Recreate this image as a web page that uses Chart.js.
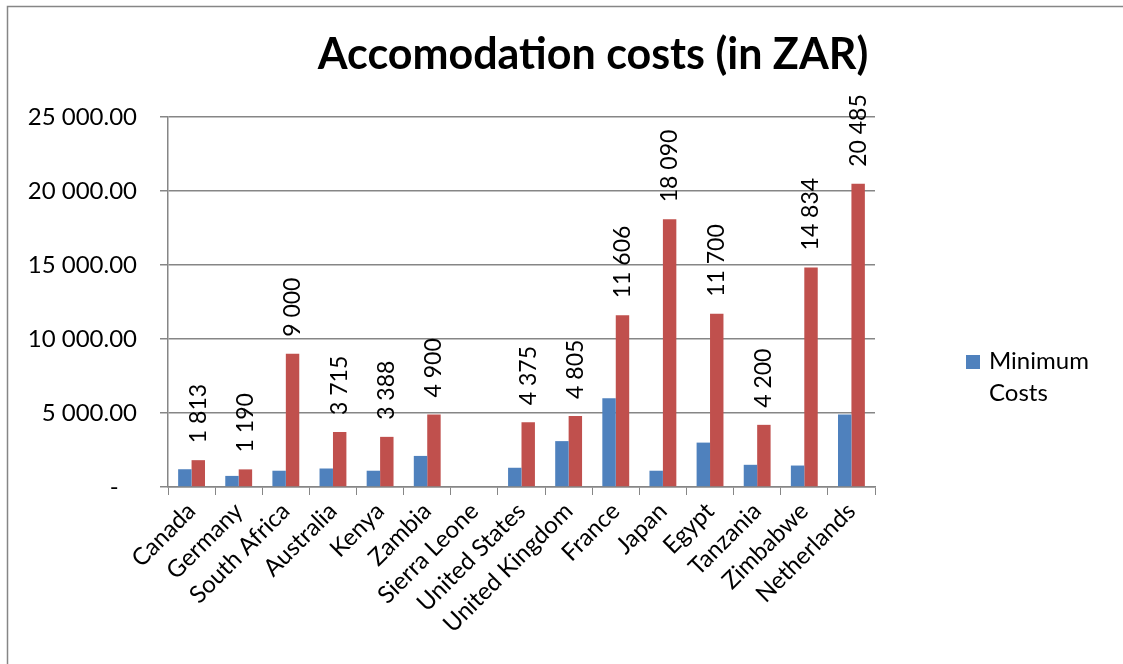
<!DOCTYPE html>
<html>
<head>
<meta charset="utf-8">
<script src="https://cdn.jsdelivr.net/npm/chart.js@4/dist/chart.umd.min.js"></script>
<style>
  html, body { margin: 0; padding: 0; background: #fff; }
  #wrap { width: 1123px; height: 664px; position: relative; }
</style>
</head>
<body>
<div id="wrap"><canvas id="costs"></canvas></div>
<script>
// chart data
const countries = ['Canada', 'Germany', 'South Africa', 'Australia', 'Kenya', 'Zambia', 'Sierra Leone',
  'United States', 'United Kingdom', 'France', 'Japan', 'Egypt', 'Tanzania', 'Zimbabwe', 'Netherlands'];
const minimumCosts = [1200, 750, 1100, 1250, 1100, 2100, 0, 1300, 3100, 6000, 1100, 3000, 1500, 1450, 4900];
const maximumCosts = [1813, 1190, 9000, 3715, 3388, 4900, null, 4375, 4805, 11606, 18090, 11700, 4200, 14834, 20485];
const yTicks = [0, 5000, 10000, 15000, 20000, 25000];

const chartTitle = 'Accomodation costs (in ZAR)';
const legendLines = ['Minimum', 'Costs'];

const FONT = 'Lato, "Open Sans", sans-serif';
const GRID = '#868686';
const BLUE = '#4F81BD';
const RED = '#C0504D';

function spaced(v) {
  return String(Math.round(v)).replace(/\B(?=(\d{3})+(?!\d))/g, ' ');
}

// white background, outer frame, title and legend
const decor = {
  id: 'decor',
  beforeDraw(chart) {
    const ctx = chart.ctx;
    ctx.save();
    ctx.fillStyle = '#fff';
    ctx.fillRect(0, 0, chart.width, chart.height);
    ctx.strokeStyle = GRID;
    ctx.lineWidth = 1.5;
    ctx.strokeRect(7.5, 6.5, chart.width + 10, chart.height + 10);
    ctx.restore();
  },
  afterDraw(chart) {
    const ctx = chart.ctx;
    ctx.save();
    ctx.fillStyle = '#000';
    ctx.font = 'bold 43px ' + FONT;
    ctx.textAlign = 'center';
    ctx.textBaseline = 'middle';
    ctx.fillText(chartTitle, 593, 55);

    ctx.fillStyle = BLUE;
    ctx.fillRect(966, 355, 14, 14);
    ctx.fillStyle = '#000';
    ctx.font = '24px ' + FONT;
    ctx.textAlign = 'left';
    ctx.fillText(legendLines[0], 989, 361);
    ctx.fillText(legendLines[1], 989, 393);
    ctx.restore();
  }
};

// rotated value labels above the red bars
const barLabels = {
  id: 'barLabels',
  afterDatasetsDraw(chart) {
    const ctx = chart.ctx;
    const meta = chart.getDatasetMeta(1);
    ctx.save();
    ctx.fillStyle = '#000';
    ctx.font = '23px ' + FONT;
    ctx.textAlign = 'left';
    ctx.textBaseline = 'middle';
    meta.data.forEach((bar, i) => {
      const v = maximumCosts[i];
      if (v === null) return;
      ctx.save();
      ctx.translate(bar.x, bar.y - 17);
      ctx.rotate(-Math.PI / 2);
      ctx.fillText(spaced(v), 0, 0);
      ctx.restore();
    });
    ctx.restore();
  }
};

new Chart(document.getElementById('costs'), {
  type: 'bar',
  data: {
    labels: countries,
    datasets: [
      { label: 'Minimum Costs', data: minimumCosts, backgroundColor: BLUE },
      { label: 'Maximum Costs', data: maximumCosts, backgroundColor: RED }
    ]
  },
  options: {
    responsive: true,
    maintainAspectRatio: false,
    animation: false,
    devicePixelRatio: 1,
    layout: { padding: { top: 117, right: 248, left: 0, bottom: 0 } },
    datasets: { bar: { categoryPercentage: 0.57, barPercentage: 1 } },
    plugins: {
      legend: { display: false },
      title: { display: false },
      tooltip: { enabled: false }
    },
    scales: {
      x: {
        offset: true,
        grid: { offset: true, drawOnChartArea: false, drawTicks: true, tickLength: 8, color: GRID },
        border: { color: GRID, width: 1.5 },
        ticks: { color: '#000', font: { family: FONT, size: 24 }, maxRotation: 45, minRotation: 45, autoSkip: false, padding: 2 },
        afterFit(scale) { scale.height = 177; }
      },
      y: {
        min: 0,
        max: 25000,
        afterBuildTicks(scale) { scale.ticks = yTicks.map(v => ({ value: v })); },
        grid: { color: GRID, lineWidth: 1.5, tickLength: 8 },
        border: { color: GRID, width: 1.5 },
        ticks: {
          color: '#000',
          font: { family: FONT, size: 24 },
          padding: 23,
          callback: v => v === 0 ? '-   ' : spaced(v) + '.00'
        },
        afterFit(scale) { scale.width = 168; }
      }
    }
  },
  plugins: [decor, barLabels]
});
</script>
</body>
</html>
